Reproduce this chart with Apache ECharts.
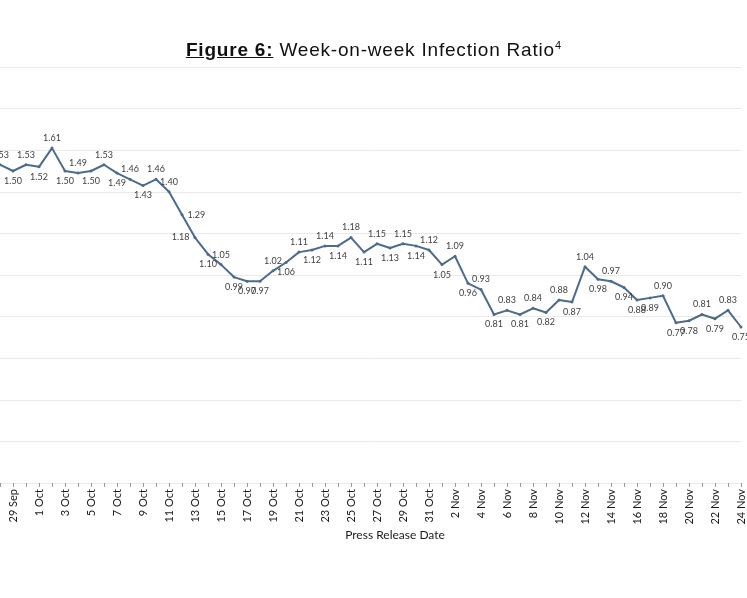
<!DOCTYPE html>
<html>
<head>
<meta charset="utf-8">
<script src="https://cdn.jsdelivr.net/npm/echarts@6/dist/echarts.min.js"></script>
<style>
  body { margin: 0; background: #fff; }
  #wrap { position: relative; width: 747px; height: 598px; }
  #chart { width: 747px; height: 598px; }
  #title {
    position: absolute; left: 0; right: 0; top: 39px; text-align: center;
    font-family: "Liberation Sans", Arial, sans-serif; font-size: 19px; color: #111;
    letter-spacing: 0.8px;
  }
  #title b { text-decoration: underline; }
  #title sup { font-size: 11px; vertical-align: 7px; line-height: 0; letter-spacing: 0; }
</style>
</head>
<body>
<div id="wrap">
  <div id="chart"></div>
  <div id="title"><b>Figure 6:</b> Week-on-week Infection Ratio<sup>4</sup></div>
</div>
<script>
// press release dates, 28 Sep - 24 Nov
const dates = [
  '28 Sep','29 Sep','30 Sep',
  '1 Oct','2 Oct','3 Oct','4 Oct','5 Oct','6 Oct','7 Oct','8 Oct','9 Oct','10 Oct',
  '11 Oct','12 Oct','13 Oct','14 Oct','15 Oct','16 Oct','17 Oct','18 Oct','19 Oct','20 Oct',
  '21 Oct','22 Oct','23 Oct','24 Oct','25 Oct','26 Oct','27 Oct','28 Oct','29 Oct','30 Oct','31 Oct',
  '1 Nov','2 Nov','3 Nov','4 Nov','5 Nov','6 Nov','7 Nov','8 Nov','9 Nov','10 Nov',
  '11 Nov','12 Nov','13 Nov','14 Nov','15 Nov','16 Nov','17 Nov','18 Nov','19 Nov','20 Nov',
  '21 Nov','22 Nov','23 Nov','24 Nov'
]
// week-on-week infection ratio
const ratio = [
  1.53, 1.50, 1.53,
  1.52, 1.61, 1.50, 1.49, 1.50, 1.53, 1.49, 1.46, 1.43, 1.46,
  1.40, 1.29, 1.18, 1.10, 1.05, 0.99, 0.97, 0.97, 1.02, 1.06,
  1.11, 1.12, 1.14, 1.14, 1.18, 1.11, 1.15, 1.13, 1.15, 1.14, 1.12,
  1.05, 1.09, 0.96, 0.93, 0.81, 0.83, 0.81, 0.84, 0.82, 0.88,
  0.87, 1.04, 0.98, 0.97, 0.94, 0.88, 0.89, 0.90, 0.77, 0.78,
  0.81, 0.79, 0.83, 0.75
]
const yMin = 0, yMax = 2, yStep = 0.2

// label placement tweaks where the original chart deviates from the rule below
const labelOverride = { 6: 'top', 14: 'right', 15: 'left', 32: 'bottom', 48: 'bottom', 50: 'bottom' }

// label above when the point sits at/above its neighbours, else below
const points = ratio.map((v, i) => {
  const prev = i > 0 ? ratio[i - 1] : ratio[i + 1]
  const next = i < ratio.length - 1 ? ratio[i + 1] : ratio[i - 1]
  let pos = v >= (prev + next) / 2 ? 'top' : 'bottom'
  if (labelOverride[i]) pos = labelOverride[i]
  return { value: v, label: { position: pos } }
})

const myChart = echarts.init(document.getElementById('chart'))
const option = {
  animation: false,
  title: {
    text: 'Press Release Date',
    left: 390, top: 524, textAlign: 'center',
    textStyle: { fontFamily: 'Lato', fontSize: 12, fontWeight: 'normal', color: '#1a1a1a' }
  },
  grid: { left: 0, right: 6, top: 67, bottom: 115 },
  xAxis: {
    type: 'category',
    data: dates,
    boundaryGap: false,
    axisLine: { show: false },
    axisTick: { show: true, interval: 0, length: 4, lineStyle: { color: '#9a9a9a' } },
    axisLabel: {
      rotate: 90,
      margin: 6,
      interval: (idx) => idx % 2 === 1,
      fontFamily: 'Lato', fontSize: 11, color: '#1a1a1a'
    }
  },
  yAxis: {
    type: 'value',
    min: yMin, max: yMax, interval: yStep,
    axisLabel: { show: false },
    axisLine: { show: false },
    axisTick: { show: false },
    splitLine: { lineStyle: { color: '#e9e9e9', width: 1 } }
  },
  series: [{
    type: 'line',
    data: points,
    symbol: 'circle',
    symbolSize: 3,
    lineStyle: { color: '#4d6b8c', width: 2 },
    itemStyle: { color: '#4d6b8c' },
    label: {
      show: true,
      distance: 4,
      formatter: (p) => p.value.toFixed(2),
      fontFamily: 'Lato', fontSize: 9, color: '#404040'
    }
  }]
}
option && myChart.setOption(option)
</script>
</body>
</html>
